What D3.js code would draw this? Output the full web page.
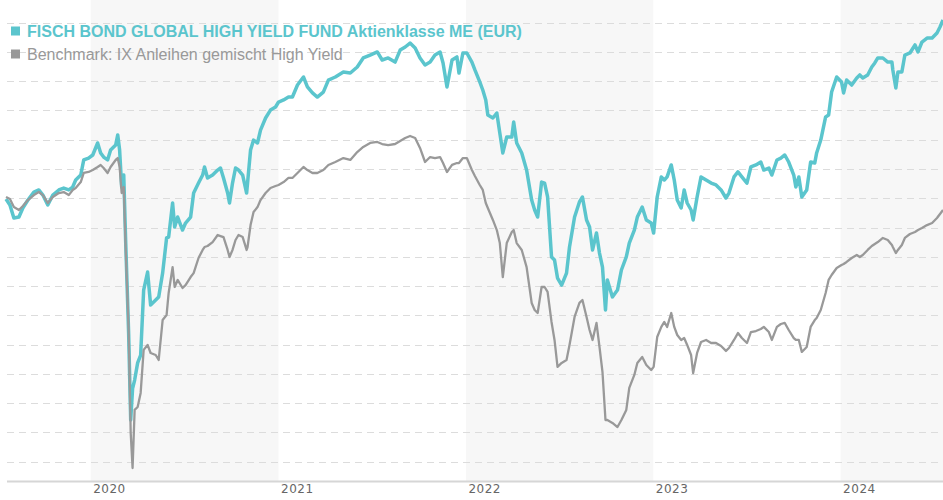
<!DOCTYPE html>
<html>
<head>
<meta charset="utf-8">
<script src="https://cdn.jsdelivr.net/npm/d3@7"></script>
<style>
  html, body { margin: 0; padding: 0; background: #fff; }
  svg { display: block; }
</style>
</head>
<body>
<svg id="chart" width="943" height="500"></svg>
<script>
// dates as decimal years (fraction of calendar year)
const dates = [
  2019.548, 2019.569, 2019.590, 2019.617, 2019.638, 2019.665, 2019.697, 2019.723, 2019.745, 2019.771,
  2019.798, 2019.830, 2019.856, 2019.883, 2019.904, 2019.920, 2019.947, 2019.963, 2019.989, 2020.011,
  2020.037, 2020.053, 2020.069, 2020.090, 2020.106, 2020.133, 2020.144, 2020.154, 2020.165, 2020.176,
  2020.186, 2020.202, 2020.213, 2020.223, 2020.234, 2020.250, 2020.266, 2020.282, 2020.303, 2020.319,
  2020.346, 2020.362, 2020.383, 2020.404, 2020.415, 2020.436, 2020.447, 2020.463, 2020.489, 2020.505,
  2020.532, 2020.548, 2020.574, 2020.596, 2020.606, 2020.622, 2020.649, 2020.676, 2020.691, 2020.707,
  2020.729, 2020.739, 2020.755, 2020.771, 2020.787, 2020.809, 2020.830, 2020.835, 2020.851, 2020.867,
  2020.888, 2020.904, 2020.931, 2020.957, 2020.984, 2021.000, 2021.027, 2021.053, 2021.074, 2021.101,
  2021.133, 2021.154, 2021.181, 2021.207, 2021.239, 2021.266, 2021.303, 2021.346, 2021.383, 2021.420,
  2021.452, 2021.489, 2021.527, 2021.553, 2021.585, 2021.622, 2021.649, 2021.676, 2021.702, 2021.729,
  2021.755, 2021.782, 2021.809, 2021.835, 2021.862, 2021.878, 2021.899, 2021.926, 2021.952, 2021.963,
  2021.984, 2022.005, 2022.032, 2022.048, 2022.074, 2022.090, 2022.106, 2022.117, 2022.144, 2022.165,
  2022.181, 2022.197, 2022.218, 2022.245, 2022.255, 2022.271, 2022.298, 2022.324, 2022.351, 2022.367,
  2022.383, 2022.404, 2022.420, 2022.436, 2022.457, 2022.473, 2022.489, 2022.511, 2022.537, 2022.553,
  2022.580, 2022.606, 2022.622, 2022.644, 2022.660, 2022.676, 2022.697, 2022.713, 2022.729, 2022.745,
  2022.755, 2022.782, 2022.809, 2022.830, 2022.856, 2022.872, 2022.899, 2022.915, 2022.941, 2022.963,
  2022.989, 2023.002, 2023.021, 2023.043, 2023.059, 2023.074, 2023.096, 2023.112, 2023.128, 2023.149,
  2023.165, 2023.181, 2023.202, 2023.213, 2023.234, 2023.255, 2023.282, 2023.309, 2023.335, 2023.362,
  2023.388, 2023.404, 2023.431, 2023.452, 2023.473, 2023.500, 2023.521, 2023.548, 2023.574, 2023.590,
  2023.617, 2023.633, 2023.660, 2023.681, 2023.702, 2023.723, 2023.750, 2023.761, 2023.777, 2023.793,
  2023.819, 2023.840, 2023.862, 2023.872, 2023.894, 2023.920, 2023.936, 2023.952, 2023.979, 2024.005,
  2024.016, 2024.032, 2024.059, 2024.086, 2024.102, 2024.118, 2024.144, 2024.166, 2024.182, 2024.198,
  2024.225, 2024.251, 2024.273, 2024.278, 2024.294, 2024.305, 2024.326, 2024.342, 2024.369, 2024.396,
  2024.412, 2024.433, 2024.460, 2024.487, 2024.513, 2024.529, 2024.545
];

// indexed performance, start = 100
const fundValues = [
  99.95, 99.54, 98.65, 98.72, 99.34, 99.88, 100.43, 100.57, 100.22, 99.54,
  100.22, 100.57, 100.70, 100.57, 100.77, 101.25, 101.59, 102.62, 102.75, 102.96,
  103.78, 103.10, 102.82, 102.62, 103.30, 103.64, 104.33, 103.30, 100.77, 101.59,
  97.15, 90.79, 84.85, 87.00, 87.58, 88.75, 89.29, 93.73, 94.96, 92.71,
  93.05, 93.26, 94.89, 97.29, 97.35, 99.68, 98.04, 98.72, 97.83, 98.31,
  98.72, 100.36, 101.04, 101.59, 102.14, 101.39, 101.59, 101.93, 102.07, 101.39,
  100.36, 99.68, 101.04, 102.07, 101.93, 101.59, 100.36, 101.04, 103.30, 103.98,
  103.78, 104.66, 105.49, 106.03, 106.24, 106.58, 106.72, 106.92, 106.92, 107.74,
  108.29, 107.61, 107.20, 106.92, 107.26, 108.08, 108.29, 108.63, 108.56, 108.97,
  109.59, 109.79, 110.00, 109.45, 109.59, 109.31, 110.13, 110.34, 110.61, 110.27,
  109.59, 109.11, 109.31, 109.79, 110.00, 109.25, 107.61, 109.45, 109.66, 108.56,
  109.93, 109.93, 109.31, 108.77, 107.95, 107.40, 106.72, 105.69, 105.49, 105.83,
  104.46, 103.10, 104.19, 104.19, 105.21, 103.78, 103.10, 101.93, 99.88, 99.20,
  98.72, 101.11, 101.04, 100.09, 95.99, 95.78, 94.55, 94.07, 94.89, 96.67,
  98.72, 99.75, 100.09, 98.52, 98.04, 96.47, 97.63, 96.26, 95.30, 92.37,
  94.42, 93.26, 93.73, 95.10, 95.99, 96.94, 97.83, 98.72, 99.40, 98.52,
  98.31, 97.63, 100.09, 101.46, 101.25, 101.46, 102.28, 101.25, 99.88, 99.34,
  100.57, 99.68, 99.20, 98.52, 100.09, 101.46, 101.25, 101.04, 100.91, 100.57,
  100.02, 100.36, 101.46, 101.80, 101.46, 101.04, 102.14, 102.28, 102.48, 101.93,
  102.07, 101.59, 102.62, 102.75, 102.96, 102.48, 101.59, 100.77, 101.46, 100.09,
  100.57, 102.48, 102.41, 103.10, 103.98, 105.56, 105.69, 107.26, 108.29, 107.95,
  107.20, 108.08, 107.74, 108.22, 108.43, 108.22, 108.43, 108.97, 109.25, 109.59,
  109.59, 109.31, 109.31, 108.77, 107.54, 108.63, 108.63, 109.79, 109.93, 110.48,
  110.00, 110.68, 110.95, 110.95, 111.30, 111.71, 112.18
];

const benchmarkValues = [
  100.09, 99.95, 99.40, 99.20, 99.47, 99.88, 100.22, 100.43, 100.22, 99.68,
  100.09, 100.36, 100.43, 100.22, 100.57, 100.70, 101.11, 101.73, 101.80, 101.93,
  102.14, 102.28, 102.07, 101.73, 102.14, 102.62, 102.75, 102.14, 100.36, 100.77,
  96.67, 91.00, 83.96, 81.57, 85.54, 85.74, 86.70, 89.64, 89.98, 89.43,
  89.29, 88.95, 91.68, 92.02, 93.53, 95.30, 93.94, 94.42, 93.87, 94.07,
  94.62, 94.89, 95.92, 96.47, 96.67, 96.74, 97.01, 97.49, 97.42, 97.35,
  96.47, 95.99, 96.47, 97.15, 97.49, 97.35, 96.47, 96.67, 98.17, 99.06,
  99.40, 99.88, 100.36, 100.70, 100.84, 100.91, 101.11, 101.39, 101.39, 101.73,
  102.14, 101.93, 101.73, 101.73, 101.93, 102.28, 102.48, 102.75, 102.62, 103.16,
  103.51, 103.78, 103.85, 103.71, 103.64, 103.71, 103.92, 104.12, 104.26, 104.12,
  103.44, 102.48, 102.82, 102.75, 102.82, 102.41, 101.80, 102.28, 102.41, 102.41,
  102.75, 102.75, 101.93, 101.52, 100.91, 100.57, 99.68, 99.34, 98.52, 97.83,
  96.94, 94.62, 96.94, 97.70, 97.83, 96.94, 96.47, 95.30, 92.85, 92.37,
  92.16, 93.94, 93.94, 93.60, 91.55, 90.32, 88.48, 88.75, 88.95, 89.98,
  91.89, 92.85, 93.05, 91.89, 91.00, 90.32, 91.48, 89.84, 88.13, 84.85,
  84.85, 84.65, 84.37, 84.85, 85.54, 87.04, 87.93, 88.75, 89.16, 88.61,
  88.27, 88.48, 90.52, 91.21, 91.55, 91.21, 92.16, 91.21, 90.66, 90.32,
  90.45, 89.98, 89.29, 88.06, 89.43, 90.18, 90.32, 90.11, 90.11, 89.91,
  89.57, 89.77, 90.32, 90.79, 90.45, 90.11, 90.86, 90.93, 91.07, 91.21,
  90.86, 90.32, 91.21, 91.41, 91.48, 91.00, 90.45, 90.32, 90.32, 89.50,
  89.84, 91.21, 91.68, 91.82, 92.37, 93.53, 94.42, 94.76, 95.24, 95.44,
  95.51, 95.65, 95.92, 96.13, 95.99, 96.13, 96.47, 96.74, 96.88, 97.01,
  97.29, 97.15, 96.81, 96.67, 96.26, 96.47, 96.81, 97.29, 97.56, 97.70,
  97.83, 97.97, 98.17, 98.31, 98.65, 98.93, 99.20
];

const seriesNames = [
  'FISCH BOND GLOBAL HIGH YIELD FUND Aktienklasse ME (EUR)',
  'Benchmark: IX Anleihen gemischt High Yield'
];
const seriesColors = ['#5bc5cd', '#999999'];
const gridValues = [82, 84, 86, 88, 90, 92, 94, 96, 98, 100, 102, 104, 106, 108, 110, 112];

// decimal year -> Date
function toDate(t) {
    const yr = Math.floor(t);
    const a = Date.UTC(yr, 0, 1), b = Date.UTC(yr + 1, 0, 1);
    return new Date(a + (t - yr) * (b - a));
}

const W = 943, H = 500;
const plot = { left: 6, right: 943, top: 0, bottom: 481 };

const svg = d3.select('#chart');

const x = d3.scaleUtc()
    .domain([toDate(dates[0]), toDate(dates[dates.length - 1])])
    .range([plot.left, plot.right]);

const y = d3.scaleLinear()
    .domain([82, 112])
    .range([461.7, 22.7]);

// alternate year bands
const years = d3.utcYears(d3.utcYear.floor(x.domain()[0]), x.domain()[1]);
svg.append('g').selectAll('rect')
    .data(years.filter(d => d.getUTCFullYear() % 2 === 0))
    .join('rect')
    .attr('x', d => Math.max(plot.left, x(d)))
    .attr('y', plot.top)
    .attr('width', d => Math.min(plot.right, x(d3.utcYear.offset(d, 1))) - Math.max(plot.left, x(d)))
    .attr('height', plot.bottom - plot.top)
    .attr('fill', '#f7f7f7');

// dashed grid
svg.append('g').selectAll('line')
    .data(gridValues)
    .join('line')
    .attr('x1', 7).attr('x2', W)
    .attr('y1', d => Math.round(y(d)) + 0.5)
    .attr('y2', d => Math.round(y(d)) + 0.5)
    .attr('stroke', '#dcdcdc')
    .attr('stroke-width', 1)
    .attr('stroke-dasharray', '7,5');

// x axis
const xAxis = svg.append('g')
    .attr('transform', `translate(0,${plot.bottom})`)
    .call(d3.axisBottom(x)
        .ticks(d3.utcYear.every(1))
        .tickFormat(d3.utcFormat('%Y'))
        .tickSize(0)
        .tickSizeOuter(0));
xAxis.select('.domain')
    .attr('d', `M7,0.5H${W}`)
    .attr('stroke', '#d6d6d6')
    .attr('stroke-width', 2);
xAxis.selectAll('text')
    .attr('text-anchor', 'start')
    .attr('x', 2)
    .attr('dy', 0)
    .attr('y', 12)
    .attr('fill', '#666')
    .style('font-family', '"DejaVu Sans", sans-serif')
    .style('font-size', '12px')
    .style('letter-spacing', '0.5px');

// lines
const line = d3.line()
    .x((d, i) => x(toDate(dates[i])))
    .y(d => y(d))
    .curve(d3.curveLinear);

svg.append('path')
    .datum(fundValues)
    .attr('d', line)
    .attr('fill', 'none')
    .attr('stroke', seriesColors[0])
    .attr('stroke-width', 3.5)
    .attr('stroke-linejoin', 'round');

svg.append('path')
    .datum(benchmarkValues)
    .attr('d', line)
    .attr('fill', 'none')
    .attr('stroke', seriesColors[1])
    .attr('stroke-width', 2.3)
    .attr('stroke-linejoin', 'round');

// legend
const legend = svg.append('g');
seriesNames.forEach((name, i) => {
    const baseY = 36.5 + i * 23;
    legend.append('rect')
        .attr('x', 11).attr('y', baseY - 10)
        .attr('width', 9).attr('height', 9)
        .attr('fill', seriesColors[i]);
    legend.append('text')
        .attr('x', 27).attr('y', baseY)
        .attr('fill', seriesColors[i])
        .style('font-family', '"Liberation Sans", Arial, sans-serif')
        .style('font-size', '16px')
        .style('font-weight', i === 0 ? 'bold' : 'normal')
        .text(name);
});
</script>
</body>
</html>
